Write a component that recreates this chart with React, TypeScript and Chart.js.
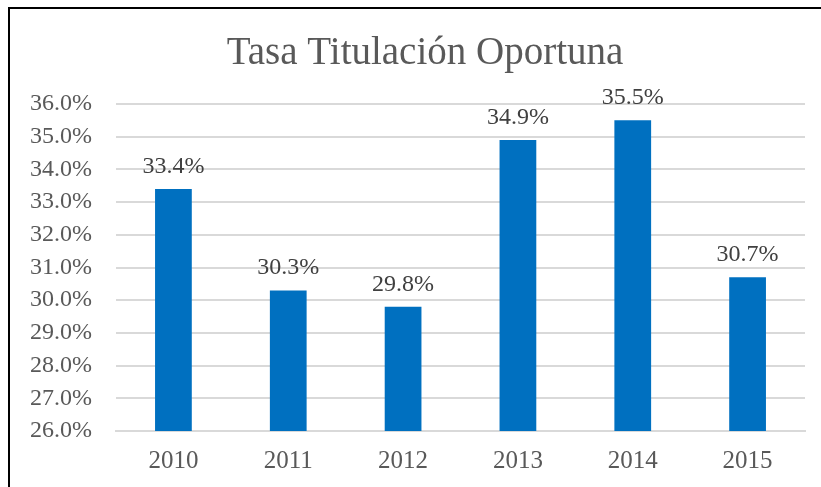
import React, { useEffect, useRef } from "react";
import { Chart, registerables } from "chart.js";

Chart.register(...registerables);

const TITLE = "Tasa Titulación Oportuna";
const YEARS = ["2010", "2011", "2012", "2013", "2014", "2015"];
const TASA = [33.4, 30.3, 29.8, 34.9, 35.5, 30.7];
const Y_MIN = 26;
const Y_MAX = 36;
const Y_STEP = 1;

const FONT = "'Liberation Serif', 'DejaVu Serif', serif";

const labelsPlugin = {
  id: "barLabels",
  afterDatasetsDraw(chart: any) {
    const { ctx } = chart;
    const meta = chart.getDatasetMeta(0);
    ctx.save();
    ctx.fillStyle = "#404040";
    ctx.font = `24px ${FONT}`;
    ctx.textAlign = "center";
    ctx.textBaseline = "alphabetic";
    meta.data.forEach((bar: any, i: number) => {
      ctx.fillText(TASA[i].toFixed(1) + "%", bar.x, bar.y - 16);
    });
    ctx.restore();
  },
};

const titlePlugin = {
  id: "customTitle",
  afterDraw(chart: any) {
    const { ctx } = chart;
    ctx.save();
    ctx.fillStyle = "#595959";
    ctx.font = `39px ${FONT}`;
    ctx.textAlign = "center";
    ctx.textBaseline = "alphabetic";
    ctx.fillText(TITLE, 425, 64);
    ctx.restore();
  },
};

export default function App() {
  const ref = useRef<HTMLCanvasElement>(null);

  useEffect(() => {
    if (!ref.current) return;
    const chart = new Chart(ref.current, {
      type: "bar",
      data: {
        labels: YEARS,
        datasets: [
          {
            data: TASA,
            backgroundColor: "#0070C0",
            borderWidth: 0,
            barPercentage: 0.32,
            categoryPercentage: 1,
          },
        ],
      },
      options: {
        animation: false,
        responsive: false,
        maintainAspectRatio: false,
        layout: { padding: { left: 0, top: 104, right: 16, bottom: 0 } },
        plugins: {
          legend: { display: false },
          tooltip: { enabled: false },
          title: { display: false },
        },
        scales: {
          x: {
            grid: { display: false, drawTicks: false },
            border: { display: true, color: "#d9d9d9", width: 2 },
            ticks: {
              color: "#595959",
              font: { family: FONT, size: 25 },
              padding: 15,
            },
            afterFit(scale: any) {
              scale.height = 56;
            },
          },
          y: {
            min: Y_MIN,
            max: Y_MAX,
            grid: { color: "#d9d9d9", lineWidth: 2, drawTicks: false },
            border: { display: false },
            ticks: {
              stepSize: Y_STEP,
              color: "#595959",
              font: { family: FONT, size: 24 },
              padding: 24,
              callback: (v: any) => Number(v).toFixed(1) + "%",
            },
            afterFit(scale: any) {
              scale.width = 116;
            },
          },
        },
      },
      plugins: [labelsPlugin, titlePlugin],
    });
    return () => chart.destroy();
  }, []);

  return (
    <div style={{ position: "absolute", left: 0, top: 0, width: 821, height: 487, background: "#fff", overflow: "hidden" }}>
      <div
        style={{
          position: "absolute",
          left: 8,
          top: 7,
          width: 840,
          height: 520,
          borderLeft: "2px solid #000",
          borderTop: "2px solid #000",
        }}
      />
      <canvas ref={ref} width={821} height={487} style={{ position: "absolute", left: 0, top: 0, width: 821, height: 487 }} />
    </div>
  );
}
